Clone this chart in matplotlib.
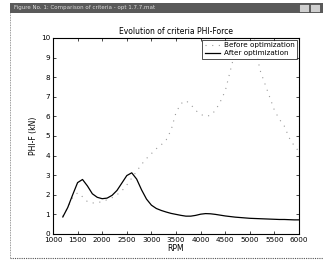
import matplotlib.pyplot as plt
from matplotlib.patches import Rectangle
from matplotlib.lines import Line2D

# RPM grid and criteria values
rpm = [1200, 1300, 1400, 1500, 1600, 1700, 1800, 1900, 2000, 2100,
       2200, 2300, 2400, 2500, 2600, 2700, 2800, 2900, 3000, 3100,
       3200, 3300, 3400, 3500, 3600, 3700, 3800, 3900, 4000, 4100,
       4200, 4300, 4400, 4500, 4600, 4700, 4800, 4900, 5000, 5100,
       5200, 5300, 5400, 5500, 5600, 5700, 5800, 5900, 6000]

before_opt = [0.9, 1.35, 1.85, 2.1, 1.9, 1.65, 1.58, 1.6, 1.65, 1.75,
              1.85, 2.0, 2.2, 2.5, 2.85, 3.2, 3.55, 3.85, 4.1, 4.35,
              4.55, 4.8, 5.3, 6.2, 6.65, 6.8, 6.6, 6.3, 6.1, 6.0,
              6.05, 6.3, 6.75, 7.3, 8.3, 9.3, 10.2, 10.8, 10.9, 9.9,
              8.4, 7.7, 7.0, 6.3, 5.85, 5.5, 4.9, 4.5, 4.2]

after_opt = [0.87, 1.35, 2.0, 2.62, 2.78, 2.45, 2.05, 1.87, 1.8, 1.83,
             1.97, 2.22, 2.6, 2.98, 3.12, 2.8, 2.25, 1.78, 1.47, 1.3,
             1.2, 1.12, 1.05, 1.0, 0.95, 0.91, 0.91, 0.95, 1.01, 1.04,
             1.03, 1.0, 0.96, 0.92, 0.89, 0.86, 0.84, 0.82, 0.8, 0.79,
             0.78, 0.77, 0.76, 0.75, 0.74, 0.74, 0.73, 0.72, 0.72]

xticks = [1000, 1500, 2000, 2500, 3000, 3500, 4000, 4500, 5000, 5500, 6000]
yticks = list(range(0, 11))

fig = plt.figure(figsize=(3.23, 2.65), dpi=100)
fig.patch.set_facecolor('white')

# window title bar + frame (screenshot look)
fig.add_artist(Rectangle((10/323, 1 - 13/265), 1, 10/265, transform=fig.transFigure,
                         facecolor='#5a5a5a', edgecolor='none'))
fig.text(14/323, 1 - 8/265, 'Figure No. 1: Comparison of criteria - opt 1.7.7.mat',
         color='#dddddd', fontsize=4, va='center', ha='left')
fig.add_artist(Rectangle((299/323, 1 - 12/265), 10/323, 8/265, transform=fig.transFigure,
                         facecolor='#cfcfcf', edgecolor='#333333', lw=0.4))
fig.add_artist(Rectangle((310/323, 1 - 12/265), 10/323, 8/265, transform=fig.transFigure,
                         facecolor='#cfcfcf', edgecolor='#333333', lw=0.4))
fig.add_artist(Line2D([10/323, 10/323], [1 - 13/265, 7/265], transform=fig.transFigure,
                      color='#777777', lw=0.6, linestyle=(0, (1, 1))))
fig.add_artist(Line2D([10/323, 1], [7/265, 7/265], transform=fig.transFigure,
                      color='#555555', lw=0.8, linestyle=(0, (1, 1))))

ax = fig.add_axes([0.164, 0.117, 0.762, 0.74])
ax.plot(rpm, before_opt, color='#999999', linestyle=(0, (1, 5)), lw=0.8, label='Before optimization')
ax.plot(rpm, after_opt, color='black', lw=0.9, label='After optimization')

ax.set_xlim(1000, 6000)
ax.set_ylim(0, 10)
ax.set_xticks(xticks)
ax.set_yticks(yticks)
ax.tick_params(direction='in', top=True, right=True, length=2.5, width=0.5,
               labelsize=5.2, pad=2)
for s in ax.spines.values():
    s.set_linewidth(0.8)

ax.set_title('Evolution of criteria PHI-Force', fontsize=5.5, pad=3)
ax.set_xlabel('RPM', fontsize=5.5, labelpad=1)
ax.set_ylabel('PHI-F (kN)', fontsize=5.5, labelpad=2)

leg = ax.legend(loc='upper right', fontsize=5.2, frameon=True, fancybox=False,
                borderaxespad=0.25, handlelength=2.2, handletextpad=0.5,
                borderpad=0.35, labelspacing=0.25)
leg.get_frame().set_edgecolor('black')
leg.get_frame().set_linewidth(0.6)

fig.savefig('out.png', dpi=100)
